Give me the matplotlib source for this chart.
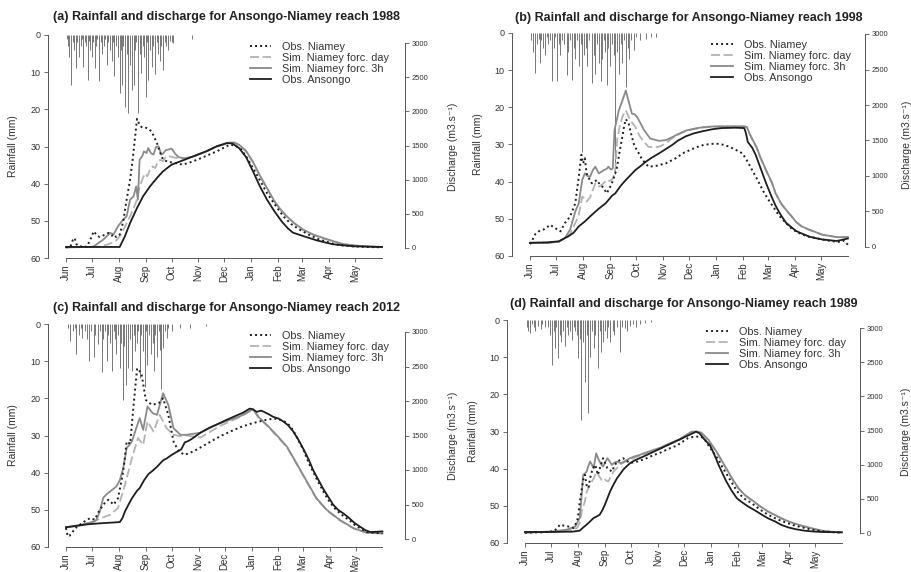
import matplotlib
matplotlib.use("Agg")
import matplotlib.pyplot as plt

plt.rcParams['font.family'] = ['Liberation Sans', 'DejaVu Sans']

month_labels = ['Jun', 'Jul', 'Aug', 'Sep', 'Oct', 'Nov', 'Dec', 'Jan', 'Feb', 'Mar', 'Apr', 'May']
month_days = [0, 30, 61, 92, 122, 153, 183, 214, 245, 273, 304, 334]
rain_ticks = [0, 10, 20, 30, 40, 50, 60]
q_ticks = [0, 500, 1000, 1500, 2000, 2500, 3000]
series_labels = ['Obs. Niamey', 'Sim. Niamey forc. day', 'Sim. Niamey forc. 3h', 'Obs. Ansongo']

# (day since 1 June, value) pairs

# ---- (a) 1988 ----
rain_a = [(1, 1), (2, 3), (4, 6), (6, 13.5), (8, 2), (9, 4), (11, 9), (13, 2), (15, 6), (17, 3), (18, 1),
          (20, 8.5), (22, 2), (23, 3), (25, 12), (27, 1.5), (28, 4), (30, 6), (31, 2), (33, 9), (35, 3),
          (36, 1), (38, 12.5), (40, 2), (42, 5), (44, 3), (45, 1), (47, 8), (49, 2), (51, 4), (53, 7),
          (54, 2), (56, 11), (58, 3), (60, 6), (62, 15.7), (63, 4), (65, 13.4), (66, 3), (68, 19.5),
          (70, 5), (72, 21), (74, 8), (76, 14.8), (78, 13.5), (80, 4), (81, 2), (83, 21), (85, 5),
          (87, 10.3), (89, 3), (90, 6), (92, 16.6), (93, 2), (95, 12), (97, 4), (99, 8.5), (101, 3),
          (103, 10.5), (105, 2), (106, 5), (108, 7), (110, 3), (112, 9.4), (114, 2), (116, 3), (118, 4),
          (120, 1.5), (122, 2), (124, 2.2), (145, 1)]
niamey_a = [(0, 10), (5, 15), (8, 120), (10, 146), (12, 60), (14, 25), (24, 20), (28, 120), (32, 244),
            (36, 180), (39, 161), (44, 190), (49, 220), (53, 180), (55, 200), (58, 160), (62, 195),
            (66, 380), (70, 707), (74, 1000), (77, 1293), (80, 1650), (82, 1890), (85, 1800), (88, 1760),
            (92, 1760), (96, 1740), (99, 1700), (102, 1620), (105, 1537), (108, 1420), (112, 1293),
            (118, 1260), (124, 1250), (130, 1230), (135, 1220), (145, 1260), (155, 1310), (165, 1365),
            (175, 1420), (189, 1512), (195, 1500), (201, 1463), (208, 1340), (216, 1170), (224, 990),
            (232, 805), (242, 620), (251, 463), (260, 350), (270, 268), (281, 190), (293, 122),
            (305, 75), (316, 40), (330, 25), (347, 15), (365, 10)]
simday_a = [(0, 10), (40, 20), (50, 60), (58, 110), (62, 170), (66, 260), (70, 360), (74, 463), (78, 580),
            (82, 707), (85, 900), (88, 1000), (91, 1090), (94, 1050), (97, 1150), (100, 1195), (103, 1170),
            (106, 1260), (109, 1290), (112, 1270), (115, 1330), (120, 1340), (126, 1320), (135, 1310),
            (147, 1340), (162, 1410), (174, 1480), (186, 1530), (194, 1540), (200, 1505), (208, 1410),
            (216, 1250), (224, 1050), (232, 870), (240, 690), (248, 550), (255, 455), (264, 355),
            (274, 262), (285, 195), (297, 140), (310, 90), (320, 55), (335, 33), (350, 20), (365, 14)]
sim3h_a = [(0, 10), (30, 15), (32, 24), (43, 122), (51, 220), (55, 200), (60, 317), (66, 415), (70, 463),
           (74, 707), (78, 756), (81, 902), (83, 707), (85, 1293), (88, 1341), (90, 1415), (93, 1390),
           (95, 1463), (98, 1390), (101, 1366), (104, 1478), (107, 1488), (110, 1366), (112, 1380),
           (115, 1430), (118, 1440), (122, 1455), (126, 1380), (130, 1330), (137, 1310), (147, 1340),
           (162, 1415), (174, 1488), (186, 1540), (194, 1545), (200, 1510), (208, 1420), (216, 1260),
           (224, 1060), (232, 880), (240, 700), (248, 560), (255, 463), (264, 360), (274, 268),
           (285, 200), (297, 146), (310, 95), (320, 58), (335, 35), (350, 22), (365, 15)]
ansongo_a = [(0, 15), (30, 15), (62, 15), (68, 171), (74, 366), (82, 585), (89, 756), (97, 902),
             (105, 1024), (112, 1122), (122, 1220), (132, 1268), (147, 1341), (162, 1415), (174, 1488),
             (186, 1535), (192, 1530), (200, 1460), (208, 1330), (216, 1120), (224, 900), (232, 710),
             (240, 550), (249, 390), (256, 290), (262, 225), (275, 170), (290, 110), (308, 55),
             (332, 25), (365, 15)]

# ---- (b) 1998 ----
rain_b = [(1, 2), (3, 5), (4, 1), (6, 10.8), (8, 3), (10, 1.5), (12, 8), (13, 2), (15, 4), (17, 6), (19, 1),
          (21, 3), (23, 2), (25, 13), (27, 4), (29, 1), (31, 13), (33, 3), (35, 6), (37, 2), (39, 3),
          (42, 11.2), (44, 5), (46, 2), (48, 12.6), (50, 4), (52, 7), (54, 2), (56, 9), (58, 3), (60, 32),
          (62, 6), (64, 4), (66, 9), (68, 2), (71, 13.5), (73, 6), (75, 11), (77, 3), (79, 8), (81, 13),
          (83, 7), (85, 2), (86, 5), (88, 14), (90, 4), (92, 9), (94, 3), (96, 6), (98, 38), (100, 5),
          (102, 11), (104, 3), (106, 8), (108, 2), (110, 14.4), (112, 4), (114, 7), (116, 2), (119, 4.5),
          (122, 1), (126, 2), (133, 1.5), (139, 1), (145, 1)]
niamey_b = [(0, 40), (2, 79), (6, 180), (10, 220), (15, 243), (19, 270), (23, 313), (26, 290), (29, 266),
            (32, 240), (35, 220), (38, 290), (40, 336), (43, 380), (46, 430), (49, 520), (52, 617),
            (56, 990), (59, 1300), (61, 1178), (63, 1250), (65, 1037), (68, 960), (71, 897), (74, 920),
            (77, 944), (80, 880), (83, 850), (86, 800), (88, 757), (91, 820), (94, 897), (97, 1000),
            (100, 1131), (103, 1350), (106, 1550), (108, 1700), (110, 1800), (113, 1750), (116, 1600),
            (119, 1458), (122, 1380), (125, 1318), (128, 1250), (131, 1201), (136, 1131), (144, 1140),
            (150, 1160), (156, 1178), (167, 1248), (177, 1330), (190, 1400), (200, 1440), (213, 1458),
            (222, 1440), (229, 1411), (236, 1370), (244, 1318), (250, 1200), (255, 1084), (261, 950),
            (267, 804), (273, 680), (279, 570), (286, 440), (294, 336), (301, 250), (309, 196),
            (318, 150), (328, 126), (338, 100), (348, 80), (356, 70), (360, 90), (365, 33)]
simday_b = [(0, 55), (33, 70), (46, 180), (52, 336), (56, 450), (60, 710), (63, 680), (65, 640), (69, 700),
            (75, 897), (79, 850), (83, 880), (88, 944), (92, 930), (95, 960), (98, 1100), (100, 1505),
            (103, 1700), (106, 1832), (110, 1925), (115, 1785), (121, 1692), (126, 1560), (131, 1480),
            (136, 1411), (144, 1400), (150, 1420), (156, 1460), (163, 1530), (170, 1580), (179, 1635),
            (190, 1665), (200, 1685), (215, 1695), (230, 1695), (246, 1695), (249, 1685), (252, 1600),
            (256, 1495), (260, 1400), (264, 1270), (271, 1075), (278, 890), (282, 750), (288, 612),
            (294, 515), (300, 432), (305, 355), (312, 285), (321, 238), (330, 196), (336, 170),
            (345, 152), (352, 138), (365, 136)]
sim3h_b = [(0, 55), (20, 55), (33, 75), (40, 126), (46, 243), (52, 500), (56, 617), (60, 944), (63, 1037),
           (66, 1000), (69, 990), (72, 1080), (75, 1131), (79, 1037), (82, 1060), (85, 1084), (88, 1100),
           (90, 1131), (93, 1090), (95, 1107), (97, 1645), (102, 1925), (106, 2060), (110, 2205),
           (113, 2065), (117, 1879), (120, 1870), (123, 1832), (127, 1740), (131, 1645), (138, 1528),
           (148, 1495), (156, 1505), (163, 1545), (170, 1590), (179, 1640), (190, 1670), (200, 1690),
           (215, 1700), (230, 1700), (246, 1700), (249, 1690), (252, 1600), (256, 1500), (260, 1411),
           (264, 1280), (271, 1084), (278, 900), (282, 757), (288, 620), (294, 523), (300, 440),
           (305, 360), (312, 290), (321, 243), (330, 200), (336, 173), (345, 155), (352, 140), (365, 140)]
ansongo_b = [(0, 60), (20, 65), (33, 80), (44, 150), (50, 200), (56, 290), (63, 360), (71, 453), (79, 540),
             (87, 617), (94, 720), (98, 757), (104, 860), (110, 944), (116, 1020), (121, 1084), (127, 1140),
             (133, 1201), (140, 1260), (148, 1318), (156, 1380), (163, 1435), (170, 1500), (179, 1560),
             (188, 1600), (198, 1630), (210, 1660), (220, 1675), (236, 1680), (246, 1675), (248, 1600),
             (250, 1480), (255, 1400), (259, 1300), (265, 1100), (271, 900), (277, 720), (282, 580),
             (288, 450), (294, 340), (300, 280), (305, 230), (310, 200), (316, 170), (321, 145),
             (328, 125), (336, 105), (344, 95), (352, 85), (358, 100), (365, 120)]

# ---- (c) 2012 ----
rain_c = [(2, 1), (5, 4.6), (8, 2), (10, 1), (12, 8.2), (15, 3), (17, 1), (19, 3.7), (22, 2), (24, 4),
          (26, 10), (29, 2), (32, 9), (34, 3), (37, 5.5), (39, 2), (41, 13), (43, 4), (45, 2), (47, 10),
          (49, 3), (51, 5), (53, 12.7), (55, 2), (56, 4), (58, 8), (60, 3), (62, 11.8), (64, 5),
          (66, 20.4), (67, 6), (69, 16.3), (71, 3), (72, 11.8), (74, 4), (76, 12.7), (78, 3), (80, 7.3),
          (82, 5), (83, 2), (85, 14.5), (87, 3), (89, 7.3), (91, 17), (92, 2), (94, 10.9), (96, 3),
          (98, 8.2), (100, 5), (101, 12.7), (103, 3), (105, 9), (107, 2), (108, 7), (110, 17.5),
          (112, 6.4), (114, 2), (116, 3.7), (118, 1), (122, 2), (131, 1), (143, 1), (162, 0.5)]
niamey_c = [(0, 159), (2, 39), (4, 45), (8, 110), (12, 170), (16, 207), (22, 260), (28, 304), (33, 280),
            (38, 400), (43, 497), (46, 540), (49, 569), (55, 497), (60, 593), (63, 780), (66, 979),
            (70, 1413), (74, 1380), (78, 1944), (82, 2474), (87, 2402), (92, 2016), (99, 1944),
            (107, 1968), (112, 2040), (118, 1799), (124, 1413), (130, 1269), (137, 1220), (147, 1270),
            (157, 1340), (167, 1413), (178, 1490), (190, 1560), (201, 1620), (213, 1670), (228, 1720),
            (240, 1746), (250, 1720), (256, 1670), (262, 1577), (268, 1430), (274, 1288), (280, 1100),
            (286, 950), (292, 800), (298, 661), (304, 540), (310, 444), (316, 370), (321, 323),
            (328, 260), (333, 203), (340, 150), (347, 100), (355, 90), (365, 80)]
simday_c = [(0, 170), (15, 190), (25, 220), (40, 300), (51, 352), (60, 449), (68, 786), (76, 1172),
            (83, 1462), (89, 1365), (94, 1703), (101, 1558), (108, 1799), (116, 1606), (124, 1510),
            (132, 1490), (139, 1500), (155, 1470), (178, 1640), (201, 1770), (216, 1875), (222, 1760),
            (232, 1640), (243, 1495), (255, 1326), (266, 1085), (278, 820), (289, 580), (301, 412),
            (316, 268), (332, 150), (347, 90), (365, 80)]
sim3h_c = [(0, 170), (15, 200), (25, 230), (32, 250), (35, 275), (39, 400), (43, 600), (47, 650), (52, 700),
           (58, 760), (62, 850), (66, 1027), (70, 1317), (76, 1413), (81, 1606), (85, 1751), (89, 1582),
           (94, 1920), (100, 1823), (105, 1799), (112, 2113), (118, 1944), (124, 1606), (132, 1510),
           (139, 1510), (155, 1540), (174, 1660), (201, 1780), (216, 1886), (222, 1770), (232, 1650),
           (243, 1505), (255, 1336), (266, 1095), (278, 830), (289, 589), (301, 420), (316, 275),
           (332, 154), (347, 92), (365, 82)]
ansongo_c = [(0, 170), (24, 212), (39, 227), (62, 245), (65, 300), (68, 400), (72, 497), (76, 589),
             (82, 700), (85, 738), (90, 850), (95, 940), (100, 990), (105, 1047), (112, 1140), (116, 1167),
             (122, 1220), (128, 1264), (133, 1300), (137, 1400), (141, 1420), (145, 1450), (155, 1540),
             (165, 1610), (174, 1660), (184, 1720), (193, 1770), (204, 1830), (212, 1890), (215, 1880),
             (220, 1843), (225, 1860), (228, 1845), (235, 1800), (239, 1770), (245, 1746), (251, 1700),
             (256, 1650), (262, 1560), (268, 1440), (274, 1300), (280, 1150), (285, 1000), (291, 860),
             (297, 720), (303, 600), (308, 500), (314, 420), (320, 370), (326, 310), (333, 230),
             (339, 180), (345, 130), (351, 100), (358, 105), (365, 110)]

# ---- (d) 1989 ----
rain_d = [(2, 2), (4, 3), (6, 3.6), (8, 1), (10, 2), (12, 3), (15, 1.5), (18, 2.5), (20, 1), (23, 2),
          (27, 2), (29, 4), (31, 12), (33, 3), (35, 7.6), (36, 2), (38, 10.3), (40, 4), (42, 6), (44, 3),
          (46, 7), (48, 2), (50, 4), (52, 3), (54, 5.5), (56, 2), (58, 3), (60, 4), (61, 10.3), (63, 5),
          (65, 27), (67, 6), (69, 16.6), (71, 4), (73, 25), (75, 10), (77, 3), (79, 7.6), (81, 4),
          (84, 13), (86, 3), (88, 8.5), (90, 6), (92, 3), (94, 4.8), (96, 2), (98, 5.8), (101, 3),
          (103, 4), (106, 2), (109, 8.5), (112, 2), (115, 2.2), (118, 3), (121, 1.5), (124, 1),
          (128, 2), (132, 1), (138, 0.8), (145, 0.5)]
niamey_d = [(0, 5), (20, 10), (33, 25), (38, 80), (40, 122), (44, 110), (48, 100), (52, 90), (56, 73),
            (59, 150), (61, 219), (63, 450), (65, 608), (67, 780), (69, 851), (71, 700), (73, 656),
            (75, 800), (77, 899), (79, 960), (81, 997), (84, 851), (87, 980), (90, 1094), (93, 1000),
            (95, 948), (98, 920), (100, 899), (103, 980), (106, 1045), (110, 1070), (113, 1094),
            (117, 1060), (121, 1021), (125, 1035), (129, 1045), (135, 1070), (140, 1094), (148, 1140),
            (155, 1170), (165, 1230), (175, 1280), (188, 1390), (195, 1410), (203, 1410), (207, 1370),
            (211, 1288), (217, 1180), (223, 1070), (228, 950), (234, 826), (240, 700), (246, 583),
            (253, 500), (261, 437), (270, 350), (280, 267), (290, 205), (299, 160), (309, 115),
            (319, 83), (330, 50), (342, 25), (355, 12), (365, 5)]
simday_d = [(0, 5), (40, 20), (55, 50), (60, 73), (63, 150), (66, 350), (69, 462), (71, 600), (73, 656),
            (75, 700), (77, 754), (80, 820), (82, 899), (85, 840), (88, 780), (91, 800), (93, 770),
            (96, 754), (99, 830), (102, 899), (106, 950), (109, 997), (115, 1040), (121, 1070),
            (126, 1100), (132, 1130), (140, 1170), (148, 1205), (156, 1240), (163, 1280), (170, 1320),
            (178, 1360), (185, 1420), (192, 1470), (198, 1475), (203, 1460), (207, 1410), (211, 1360),
            (217, 1250), (223, 1130), (228, 1020), (234, 890), (240, 760), (246, 648), (253, 552),
            (261, 478), (270, 392), (280, 310), (290, 245), (299, 190), (309, 140), (319, 103),
            (330, 67), (342, 32), (355, 14), (365, 9)]
sim3h_d = [(0, 5), (33, 24), (48, 49), (58, 97), (63, 219), (65, 500), (67, 851), (69, 870), (71, 899),
           (73, 980), (75, 1045), (77, 1000), (79, 948), (82, 1167), (84, 1100), (86, 1045), (88, 1000),
           (90, 972), (93, 1050), (95, 1094), (98, 1040), (100, 997), (103, 1030), (106, 1045),
           (109, 1030), (111, 1021), (116, 1060), (121, 1094), (126, 1120), (132, 1142), (140, 1180),
           (148, 1215), (156, 1250), (163, 1290), (170, 1330), (178, 1370), (185, 1430), (192, 1483),
           (198, 1485), (203, 1470), (207, 1420), (211, 1370), (217, 1260), (223, 1142), (228, 1030),
           (234, 899), (240, 770), (246, 656), (253, 560), (261, 486), (270, 400), (280, 316),
           (290, 250), (299, 194), (309, 145), (319, 107), (330, 70), (342, 34), (355, 15), (365, 10)]
ansongo_d = [(0, 15), (30, 15), (55, 20), (63, 34), (67, 80), (71, 122), (75, 170), (79, 219), (83, 245),
             (86, 267), (89, 330), (92, 413), (95, 510), (98, 608), (102, 710), (106, 802), (110, 870),
             (113, 924), (117, 975), (121, 1021), (126, 1060), (132, 1094), (140, 1140), (150, 1200),
             (165, 1290), (180, 1380), (190, 1440), (197, 1483), (201, 1460), (204, 1410), (208, 1350),
             (213, 1288), (218, 1150), (223, 997), (228, 860), (232, 754), (238, 620), (244, 510),
             (250, 450), (257, 389), (265, 330), (273, 267), (280, 215), (288, 170), (295, 120),
             (303, 83), (312, 55), (322, 34), (332, 22), (342, 15), (365, 10)]

titles = ['(a) Rainfall and discharge for Ansongo-Niamey reach 1988',
          '(b) Rainfall and discharge for Ansongo-Niamey reach 1998',
          '(c) Rainfall and discharge for Ansongo-Niamey reach 2012',
          '(d) Rainfall and discharge for Ansongo-Niamey reach 1989']

# pixel geometry of each panel in the 911x572 figure
geom = [dict(left=48, jun=66, pxd=0.866, right=405, top=35, bottom=258, q0=248, q3000=43, pad=11, qlab=1.12),
        dict(left=512, jun=530, pxd=0.871, right=865, top=33, bottom=256, q0=247, q3000=34, pad=9, qlab=1.105),
        dict(left=48, jun=66, pxd=0.867, right=405, top=324, bottom=547, q0=539, q3000=332, pad=9.5, qlab=1.12),
        dict(left=507, jun=525, pxd=0.868, right=860, top=320, bottom=543, q0=533, q3000=328, pad=9, qlab=1.115)]

panel_data = [(rain_a, niamey_a, simday_a, sim3h_a, ansongo_a),
              (rain_b, niamey_b, simday_b, sim3h_b, ansongo_b),
              (rain_c, niamey_c, simday_c, sim3h_c, ansongo_c),
              (rain_d, niamey_d, simday_d, sim3h_d, ansongo_d)]

W, H = 911, 572
fig = plt.figure(figsize=(W / 100, H / 100), dpi=100)

axis_col = '#555555'
text_col = '#333333'


def unzip(pairs):
    return [p[0] for p in pairs], [p[1] for p in pairs]


for title, data, g in zip(titles, panel_data, geom):
    rain, niamey, simday, sim3h, ansongo = data
    ax = fig.add_axes([g['left'] / W, 1 - g['bottom'] / H,
                       (g['right'] - g['left']) / W, (g['bottom'] - g['top']) / H])
    ax.set_xlim((g['left'] - g['jun']) / g['pxd'], (g['right'] - g['jun']) / g['pxd'])
    ax.set_ylim(60, 0)

    rd, rv = unzip(rain)
    ax.vlines(rd, 0, rv, colors='#777777', lw=0.7)

    ax.spines['top'].set_visible(False)
    ax.spines['right'].set_visible(False)
    ax.spines['bottom'].set_bounds(0, 365)
    for s in ('left', 'bottom'):
        ax.spines[s].set_color(axis_col)
        ax.spines[s].set_linewidth(0.7)
    ax.set_xticks(month_days)
    ax.set_xticklabels(month_labels, rotation=90, fontsize=7, color=text_col)
    ax.set_yticks(rain_ticks)
    ax.set_yticklabels([str(t) for t in rain_ticks], fontsize=6.5, color=text_col)
    ax.tick_params(axis='y', length=3, width=0.6, color=axis_col, pad=2.5)
    ax.tick_params(axis='x', length=3, width=0.6, color=axis_col, pad=1.5)
    ax.set_ylabel('Rainfall (mm)', fontsize=7.5, color=text_col)
    ax.yaxis.set_label_coords(-0.083, 0.5)
    ax.set_title(title, fontsize=9, fontweight='bold', color='#222222', pad=g['pad'])

    ax2 = ax.twinx()
    f0 = (g['bottom'] - g['q0']) / (g['bottom'] - g['top'])
    f3 = (g['bottom'] - g['q3000']) / (g['bottom'] - g['top'])
    span = 3000 / (f3 - f0)
    ax2.set_ylim(-f0 * span, (1 - f0) * span)

    x, y = unzip(simday)
    l_day, = ax2.plot(x, y, color='#b3b3b3', lw=1.3, ls=(0, (5, 2)))
    x, y = unzip(sim3h)
    l_3h, = ax2.plot(x, y, color='#8a8a8a', lw=1.3)
    x, y = unzip(ansongo)
    l_ans, = ax2.plot(x, y, color='#1e1e1e', lw=1.3)
    x, y = unzip(niamey)
    l_nia, = ax2.plot(x, y, color='#1e1e1e', lw=1.4, ls=(0, (1, 1.6)))

    for s in ('top', 'left', 'bottom'):
        ax2.spines[s].set_visible(False)
    ax2.spines['right'].set_bounds(0, 3000)
    ax2.spines['right'].set_color(axis_col)
    ax2.spines['right'].set_linewidth(0.7)
    ax2.set_yticks(q_ticks)
    ax2.set_yticklabels([str(t) for t in q_ticks], fontsize=5.5, color=text_col)
    ax2.tick_params(length=3, width=0.6, color=axis_col, pad=2)
    ax2.set_ylabel('Discharge (m3.s⁻¹)', fontsize=7.5, color=text_col)
    ax2.yaxis.set_label_coords(g['qlab'], 0.5)

    ax2.legend([l_nia, l_day, l_3h, l_ans], series_labels, loc='upper left',
               bbox_to_anchor=(0.565, 0.97), frameon=False, fontsize=7.8,
               handlelength=2.0, handletextpad=1.0, labelspacing=0.1,
               borderpad=0, borderaxespad=0, labelcolor=text_col)

fig.savefig('out.png', dpi=100)
